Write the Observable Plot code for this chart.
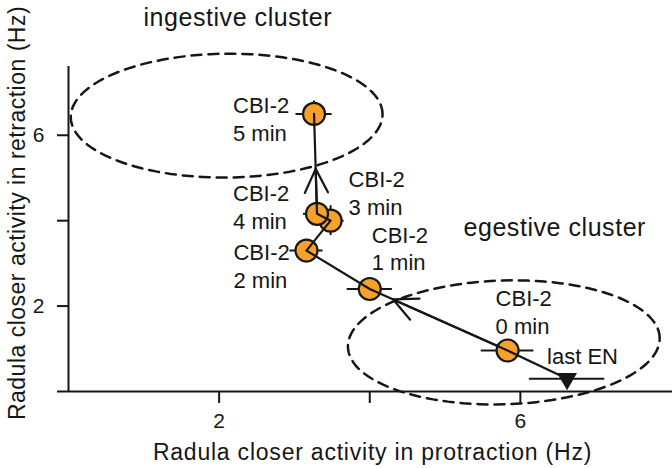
<!DOCTYPE html>
<html><head><meta charset="utf-8">
<script src="https://cdn.jsdelivr.net/npm/d3@7"></script>
<script src="https://cdn.jsdelivr.net/npm/@observablehq/plot@0.6"></script>
<style>
html,body{margin:0;padding:0;background:#fff;}
#chart{width:672px;height:468px;overflow:hidden;}
</style></head><body><div id="chart"></div>
<script>
// ---- data ----
const stages = ["last EN", "0 min", "1 min", "2 min", "3 min", "4 min", "5 min"];
const pointTexts = ["last EN", "CBI-2\n0 min", "CBI-2\n1 min", "CBI-2\n2 min", "CBI-2\n3 min", "CBI-2\n4 min", "CBI-2\n5 min"];
const protractionHz = [6.62, 5.83, 4.00, 3.16, 3.48, 3.30, 3.26];
const retractionHz  = [0.30, 0.96, 2.40, 3.30, 4.00, 4.16, 6.50];
const protractionErr = [0.50, 0.35, 0.30, 0.22, 0.18, 0.18, 0.24];
const retractionErr  = [0.00, 0.20, 0.20, 0.25, 0.35, 0.28, 0.30];
const pathOrder = [0, 1, 2, 3, 4, 5, 6];

// trajectory arrows: segment from -> to, tip fraction along that segment
const arrowFrom = [1, 5];
const arrowTo   = [2, 6];
const arrowTip  = [0.83, 0.45];

// clusters (ellipses in data units)
const clusterNames = ["ingestive cluster", "egestive cluster"];
const clusterCx = [2.10, 5.78];
const clusterCy = [6.46, 1.15];
const clusterRx = [2.07, 2.07];
const clusterRy = [1.45, 1.45];
const clusterTilt = [0.015, 0.045];

const xTicks = [2, 4, 6];
const yTicks = [0, 2, 4, 6];
const labeledTicks = [2, 6];
const xTitle = "Radula closer activity in protraction (Hz)";
const yTitle = "Radula closer activity in retraction (Hz)";

// ---- derived tables ----
const points = stages.map((s, i) => ({
  stage: s, text: pointTexts[i],
  x: protractionHz[i], y: retractionHz[i],
  ex: protractionErr[i], ey: retractionErr[i]
}));
const path = pathOrder.map(i => points[i]);
// arrow geometry helpers (style): the arrow shaft is extended backwards along its
// segment (and hidden with an inset) so the arrowhead keeps its full size
const arrowBack = [-0.2, -0.8];
const arrowInset = [30, 80];
const arrows = arrowFrom.map((f, k) => {
  const a = points[f], b = points[arrowTo[k]];
  const lerp = t => ({x: a.x + (b.x - a.x) * t, y: a.y + (b.y - a.y) * t});
  const t0 = lerp(arrowBack[k]), t1 = lerp(arrowTip[k]);
  return {x1: t0.x, y1: t0.y, x2: t1.x, y2: t1.y};
});
const ellipsePts = [];
clusterNames.forEach((name, c) => {
  const n = 120;
  for (let j = 0; j < n; j++) {
    const th = 2 * Math.PI * j / n;
    const dx = clusterRx[c] * Math.cos(th);
    const dy = clusterRy[c] * Math.sin(th) + clusterTilt[c] * dx;
    ellipsePts.push({cluster: name, x: clusterCx[c] + dx, y: clusterCy[c] + dy});
  }
});

// ---- styles ----
const ink = "#161616";
const orange = "#f6a12a";
const fontFamily = "'Liberation Sans', Arial, Helvetica, sans-serif";
// label offsets (px) of each point's text relative to its marker
const labelDx = [-20, -12, 2, -73, 18, -84, -81];
const labelDy = [-15, -17, -19, 37, -6, 15, 27];

const triangleDown = {
  draw(context, size) {
    const a = Math.sqrt(size * 4 / Math.sqrt(3));
    const h = a * Math.sqrt(3) / 2;
    context.moveTo(0, 2 * h / 3);
    context.lineTo(-a / 2, -h / 3);
    context.lineTo(a / 2, -h / 3);
    context.closePath();
  }
};

const circles = points.filter(p => p.stage !== "last EN");
const lastEN = points.filter(p => p.stage === "last EN");

const labelMarks = points.map((p, i) => Plot.text([p], {
  x: "x", y: "y", text: "text", textAnchor: "start", lineAnchor: "bottom",
  lineHeight: 1.25, dx: labelDx[i], dy: labelDy[i], fontSize: 22, fill: ink
}));
const arrowMarks = arrows.map((a, k) => Plot.arrow([a], {
  x1: "x1", y1: "y1", x2: "x2", y2: "y2", stroke: ink, strokeWidth: 2.2,
  headLength: 18, headAngle: 52, insetStart: arrowInset[k], insetEnd: 0
}));

const chart = Plot.plot({
  width: 672, height: 468,
  marginLeft: 68, marginRight: 0, marginTop: 66, marginBottom: 77,
  x: {domain: [0, 8.02]},
  y: {domain: [0, 7.61]},
  style: {fontFamily, fontSize: "22px", color: ink, background: "white", overflow: "visible"},
  marks: [
    Plot.line(ellipsePts, {x: "x", y: "y", z: "cluster", curve: "linear-closed",
      stroke: ink, strokeWidth: 2.5, strokeDasharray: "10,7"}),
    Plot.ruleY([0], {stroke: ink, strokeWidth: 2}),
    Plot.ruleX([0], {stroke: ink, strokeWidth: 2}),
    Plot.axisX({ticks: xTicks, tickSize: 12, tickPadding: 10, strokeWidth: 2, label: null,
      fontSize: 21, tickFormat: d => labeledTicks.includes(d) ? String(d) : ""}),
    Plot.axisY({ticks: yTicks, tickSize: 11, tickPadding: 13, strokeWidth: 2, label: null,
      fontSize: 21, tickFormat: d => labeledTicks.includes(d) ? String(d) : ""}),
    Plot.ruleY(points, {y: "y", x1: d => d.x - d.ex, x2: d => d.x + d.ex, stroke: ink, strokeWidth: 2}),
    Plot.ruleX(points.filter(d => d.ey > 0), {x: "x", y1: d => d.y - d.ey, y2: d => d.y + d.ey, stroke: ink, strokeWidth: 2}),
    ...arrowMarks,
    Plot.dot(circles, {x: "x", y: "y", r: 11, fill: orange, stroke: ink, strokeWidth: 2.2}),
    Plot.line(path, {x: "x", y: "y", stroke: ink, strokeWidth: 2.2}),
    Plot.dot(lastEN, {x: "x", y: "y", r: 7.4, symbol: triangleDown, fill: ink, stroke: "none"}),
    ...labelMarks,
    Plot.text([clusterNames[0]], {frameAnchor: "top-left", text: d => d, textAnchor: "start",
      lineAnchor: "bottom", dx: 75, dy: -41, fontSize: 25, fill: ink}),
    Plot.text([clusterNames[1]], {frameAnchor: "top-left", text: d => d, textAnchor: "start",
      lineAnchor: "bottom", dx: 395, dy: 169, fontSize: 25, fill: ink}),
    Plot.text([xTitle], {frameAnchor: "bottom", text: d => d, textAnchor: "middle",
      lineAnchor: "bottom", dx: 2, dy: 68, fontSize: 23, fill: ink}),
    Plot.text([yTitle], {frameAnchor: "left", text: d => d, textAnchor: "middle",
      lineAnchor: "bottom", rotate: -90, dx: -44, dy: -16, fontSize: 23, fill: ink})
  ]
});
// letter spacing to match the reference's wider typeface
const spacing = new Map([[xTitle, "0.78px"], [yTitle, "0.5px"], [clusterNames[0], "0.55px"], [clusterNames[1], "0.55px"]]);
chart.querySelectorAll("text").forEach(t => {
  const s = spacing.get(t.textContent);
  if (s) t.style.letterSpacing = s;
});
document.getElementById("chart").appendChild(chart);
</script>
</body></html>
